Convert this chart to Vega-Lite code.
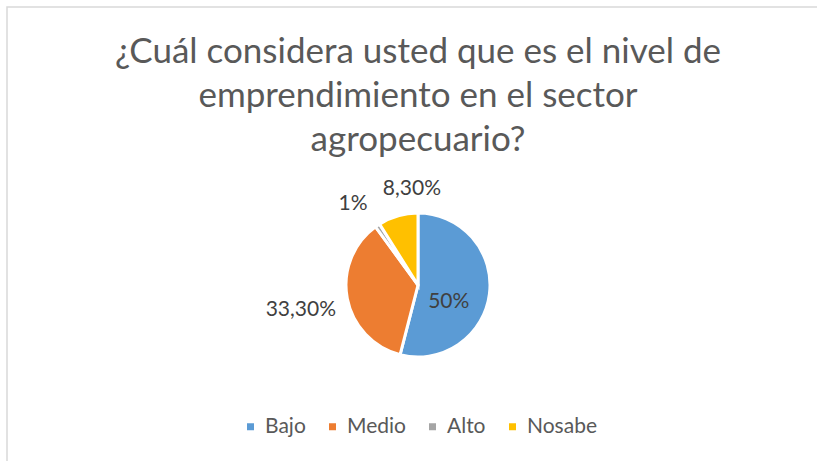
{
  "$schema": "https://vega.github.io/schema/vega-lite/v6.json",
  "usermeta": {"embedOptions": {"actions": false}},
  "width": 822,
  "height": 556,
  "autosize": {"type": "none"},
  "padding": {"left": 7, "top": 7, "right": -12, "bottom": -102},
  "background": "white",
  "config": {"view": {"stroke": null}},
  "title": {
    "text": ["¿Cuál considera usted que es el nivel de", "emprendimiento en el sector", "agropecuario?"],
    "orient": "top",
    "anchor": "middle",
    "frame": "group",
    "offset": 0,
    "baseline": "top",
    "dy": 152,
    "font": "Lato",
    "fontSize": 35,
    "fontWeight": "normal",
    "lineHeight": 44,
    "color": "#595959"
  },
  "datasets": {
    "respuestas": [
      {"categoria": "Bajo", "valor": 50, "etiqueta": "50%", "n": 1},
      {"categoria": "Medio", "valor": 33.3, "etiqueta": "33,30%", "n": 2},
      {"categoria": "Alto", "valor": 1, "etiqueta": "1%", "n": 3},
      {"categoria": "Nosabe", "valor": 8.3, "etiqueta": "8,30%", "n": 4}
    ],
    "marco": [{"borde": "marco"}]
  },
  "layer": [
    {
      "data": {"name": "marco"},
      "mark": {"type": "rect", "fill": null, "stroke": "#d9d9d9", "strokeWidth": 1.5},
      "encoding": {}
    },
    {
      "data": {"name": "respuestas"},
      "mark": {"type": "arc", "outerRadius": 72, "stroke": "white", "strokeWidth": 3},
      "encoding": {
        "theta": {"field": "valor", "type": "quantitative", "stack": true},
        "order": {"field": "n", "type": "quantitative"},
        "color": {
          "field": "categoria",
          "type": "nominal",
          "scale": {"domain": ["Bajo", "Medio", "Alto", "Nosabe"], "range": ["#5B9BD5", "#ED7D31", "#A5A5A5", "#FFC000"]},
          "legend": {
            "orient": "none",
            "legendX": 233,
            "legendY": 409,
            "direction": "horizontal",
            "title": null,
            "symbolType": "square",
            "symbolSize": 49,
            "symbolStrokeWidth": 0,
            "labelFont": "Lato",
            "labelFontSize": 21,
            "labelColor": "#595959",
            "columnPadding": 16,
            "labelOffset": 4
          }
        }
      }
    },
    {
      "data": {"name": "respuestas"},
      "mark": {"type": "text", "radius": 35, "dx": -4, "dy": 13, "font": "Lato", "fontSize": 21, "color": "#404040"},
      "encoding": {
        "theta": {"field": "valor", "type": "quantitative", "stack": true},
        "order": {"field": "n", "type": "quantitative"},
        "detail": {"field": "categoria", "type": "nominal"},
        "text": {"field": "etiqueta", "condition": {"test": "datum.categoria !== 'Bajo'", "value": ""}}
      }
    },
    {
      "data": {"name": "respuestas"},
      "mark": {"type": "text", "radius": 83.5, "dy": 9, "align": "right", "font": "Lato", "fontSize": 21, "color": "#404040"},
      "encoding": {
        "theta": {"field": "valor", "type": "quantitative", "stack": true},
        "order": {"field": "n", "type": "quantitative"},
        "detail": {"field": "categoria", "type": "nominal"},
        "text": {"field": "etiqueta", "condition": {"test": "datum.categoria !== 'Medio'", "value": ""}}
      }
    },
    {
      "data": {"name": "respuestas"},
      "mark": {"type": "text", "radius": 103, "dx": -7, "dy": 4, "font": "Lato", "fontSize": 21, "color": "#404040"},
      "encoding": {
        "theta": {"field": "valor", "type": "quantitative", "stack": true},
        "order": {"field": "n", "type": "quantitative"},
        "detail": {"field": "categoria", "type": "nominal"},
        "text": {"field": "etiqueta", "condition": {"test": "datum.categoria !== 'Alto'", "value": ""}}
      }
    },
    {
      "data": {"name": "respuestas"},
      "mark": {"type": "text", "radius": 101, "dx": 22, "dy": 1, "font": "Lato", "fontSize": 21, "color": "#404040"},
      "encoding": {
        "theta": {"field": "valor", "type": "quantitative", "stack": true},
        "order": {"field": "n", "type": "quantitative"},
        "detail": {"field": "categoria", "type": "nominal"},
        "text": {"field": "etiqueta", "condition": {"test": "datum.categoria !== 'Nosabe'", "value": ""}}
      }
    }
  ]
}
